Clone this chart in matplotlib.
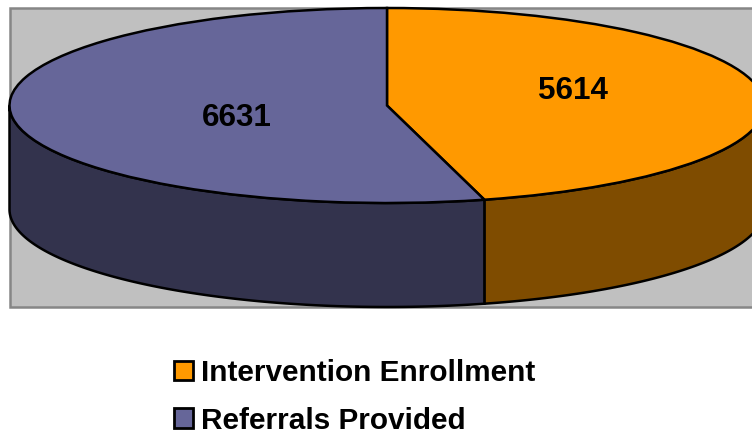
import numpy as np
import matplotlib
matplotlib.use('Agg')
import matplotlib.pyplot as plt
from matplotlib.patches import Rectangle

plt.rcParams['font.family'] = ['Liberation Sans', 'DejaVu Sans']

# dati del grafico
categorie = ['Intervention Enrollment', 'Referrals Provided']
valori = [5614, 6631]
colori_sopra = ['#FF9900', '#666699']
colori_lato = ['#7F4C00', '#33334D']

W, H = 752, 433
cx, cy = 387, 105.5     # centro dell'ellisse in pixel
rx, ry = 377.5, 97.5    # semiassi
spessore = 104 / ry     # altezza del lato, in unita' del raggio

fig = plt.figure(figsize=(W / 100, H / 100), dpi=100, facecolor='white')

# sfondo grigio del plot, esce dal bordo destro
fig.add_artist(Rectangle((10 / W, 1 - 307 / H), 800 / W, 299 / H, transform=fig.transFigure,
                         facecolor='#C0C0C0', edgecolor='#868686', linewidth=1.8, zorder=0))

ax = fig.add_axes([0, 0, 1, 1])
ax.patch.set_visible(False)

# lati: solo la meta' davanti dell'ellisse
taglio = 90 - 360 * valori[0] / sum(valori)
archi = [(taglio, 0), (-180, taglio)]
for (a0, a1), col in zip(archi, colori_lato):
    t = np.radians(np.linspace(a0, a1, 200))
    x = np.cos(t)
    y = np.sin(t)
    ax.fill(np.r_[x, x[::-1]], np.r_[y, y[::-1] - spessore], facecolor=col,
            edgecolor='black', linewidth=1.8, zorder=1)

# faccia superiore
wedges, _ = ax.pie(valori, colors=colori_sopra, startangle=90, counterclock=False,
                   wedgeprops={'edgecolor': 'black', 'linewidth': 1.8, 'zorder': 2})

ax.set_aspect('auto')
ax.set_xlim((0 - cx) / rx, (W - cx) / rx)
ax.set_ylim((cy - H) / ry, cy / ry)
ax.set_axis_off()

# etichette dei valori
fig.text(573 / W, 1 - 91 / H, str(valori[0]), ha='center', va='center',
         fontsize=22.6, fontweight='bold', color='black')
fig.text(237 / W, 1 - 118 / H, str(valori[1]), ha='center', va='center',
         fontsize=22.6, fontweight='bold', color='black')

# legenda
leg = fig.legend(wedges, categorie, loc='upper left', bbox_to_anchor=(173.5 / W, 1 - 359 / H),
                 frameon=False, prop={'size': 21.4, 'weight': 'bold'}, borderpad=0, borderaxespad=0,
                 handlelength=0.64, handleheight=0.64, handletextpad=0.27, labelspacing=0.66)
for h in leg.legend_handles:
    h.set_linewidth(2)

fig.savefig('out.png', dpi=100)
